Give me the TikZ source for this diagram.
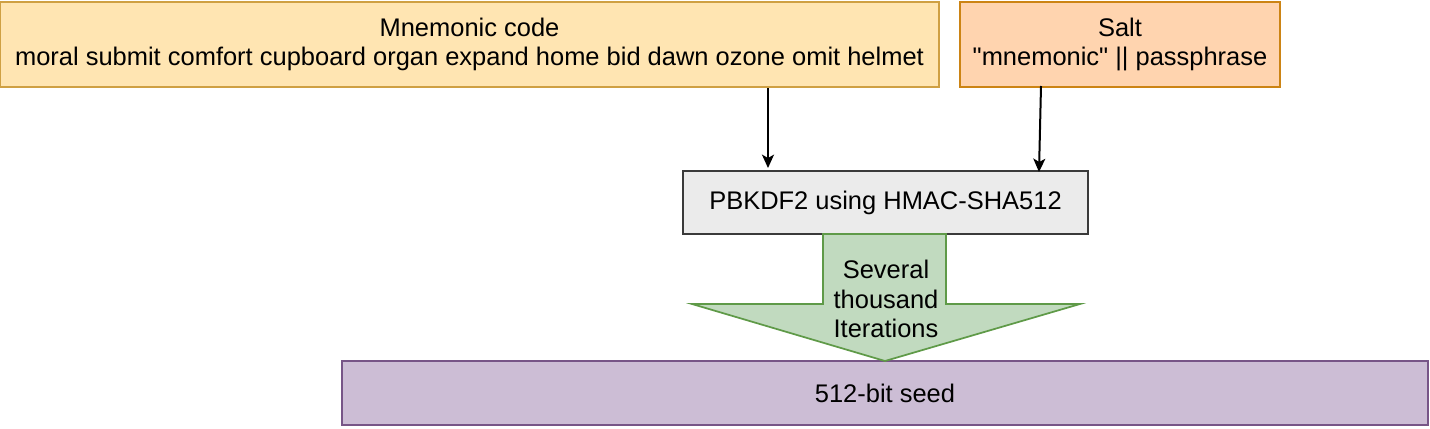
\documentclass[tikz,border=0pt]{standalone}
\usepackage{fontspec}
\setmainfont{Liberation Sans}
\font\qfont="Liberation Sans" at 19.1pt
\newcommand{\dq}{{\qfont"}}
\usepackage{tikz}
\usetikzlibrary{arrows.meta, positioning, calc}
\definecolor{mnfill}{HTML}{FFE5B2}
\definecolor{mnline}{HTML}{CFA043}
\definecolor{saltfill}{HTML}{FFD4AF}
\definecolor{saltline}{HTML}{CC8414}
\definecolor{kdffill}{HTML}{EBEBEB}
\definecolor{kdfline}{HTML}{3A3A3A}
\definecolor{iterfill}{HTML}{C1DABF}
\definecolor{iterline}{HTML}{5F9A48}
\definecolor{seedfill}{HTML}{CCBDD5}
\definecolor{seedline}{HTML}{775587}

\begin{document}
\begin{tikzpicture}[
    x=0.75pt, y=-0.75pt,
    box/.style={rectangle, draw=#1line, fill=#1fill, line width=1.3pt,
                inner sep=0pt, align=center, font=\fontsize{19.1}{22}\selectfont},
    arrow/.style={-{Stealth[length=10pt, width=9pt, inset=2.5pt]}, line width=1.5pt, color=black}
]
\useasboundingbox (0,0) rectangle (1430,428);

\node[box=mn, minimum width=704pt, minimum height=64pt] (mnemonic) at (469.5,44.5)
    {Mnemonic code\\moral submit comfort cupboard organ expand home bid dawn ozone omit helmet};
\node[box=salt, minimum width=240pt, minimum height=64pt] (salt) at (1120,44.5)
    {Salt\\\dq mnemonic\dq{} || passphrase};
\node[box=kdf, minimum width=304pt, minimum height=47pt] (pbkdf) at (885.5,202.5)
    {PBKDF2 using HMAC-SHA512};
\node[box=seed, minimum width=815pt, minimum height=48pt] (seed) at (885,393)
    {512-bit seed};

\draw[iterline, fill=iterfill, line width=1.3pt, line join=miter]
    (823,234) -- (946,234) -- (946,304) -- (1080,304) -- (885,361)
    -- (692,304) -- (823,304) -- cycle;
\node[font=\fontsize{19.1}{22}\selectfont, align=center] (iter) at (886,299)
    {Several\\thousand\\Iterations};

\coordinate (mnout) at (768,88);
\coordinate (kdfin) at (768,168);
\coordinate (saltout) at (1041,86);
\coordinate (kdfin2) at (1039,172);

\draw[arrow] (mnout) -- (kdfin);
\draw[arrow] (saltout) -- (kdfin2);
\end{tikzpicture}
\end{document}
